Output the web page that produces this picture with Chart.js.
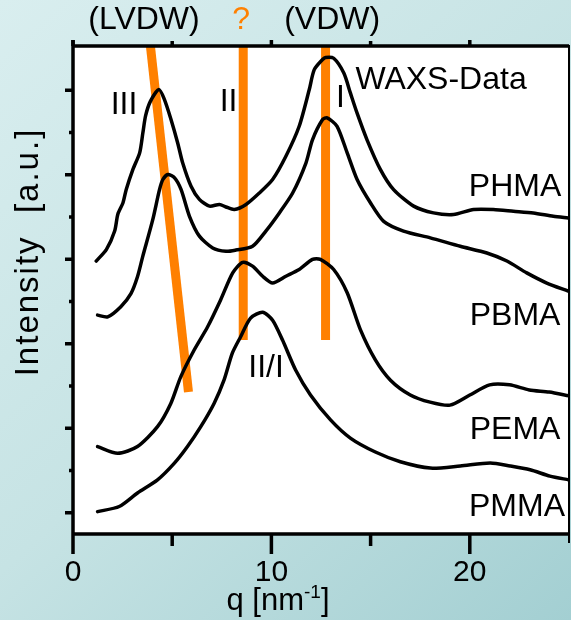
<!DOCTYPE html>
<html>
<head>
<meta charset="utf-8">
<script src="https://cdn.jsdelivr.net/npm/chart.js@4.4.1/dist/chart.umd.min.js"></script>
<style>
  html, body { margin: 0; padding: 0; background: #cfe7e8; }
  #wrap { width: 571px; height: 620px; }
</style>
</head>
<body>
<div id="wrap"><canvas id="c" width="571" height="620"></canvas></div>
<script>
// WAXS curves, q in nm^-1, intensity in arbitrary units (curves offset vertically)
const qPHMA = [1.17, 1.68, 2.10, 2.26, 2.52, 2.68, 3.02, 3.36, 3.52, 3.66, 3.90, 4.33, 4.61, 4.94, 5.28, 5.53, 5.95, 6.37, 6.88, 7.38, 7.71, 8.13, 8.72, 9.39, 10.06, 10.73, 11.40, 11.91, 12.16, 12.58, 12.73, 13.14, 13.65, 13.98, 14.32, 14.82, 15.49, 16.16, 17.17, 18.17, 19.18, 20.19, 21.19, 22.20, 23.20, 24.21, 24.96];
const iPHMA = [5.96, 6.23, 6.67, 7.07, 7.34, 7.65, 8.13, 8.52, 8.99, 9.40, 9.74, 10.02, 9.78, 9.31, 8.75, 8.28, 7.73, 7.42, 7.26, 7.30, 7.24, 7.18, 7.30, 7.57, 7.89, 8.44, 9.15, 10.02, 10.49, 10.73, 10.78, 10.76, 10.41, 9.94, 9.46, 8.83, 8.13, 7.65, 7.26, 7.10, 7.06, 7.18, 7.18, 7.14, 7.10, 7.02, 6.98];

const qPBMA = [1.24, 1.75, 2.41, 2.92, 3.25, 3.51, 4.02, 4.36, 4.53, 4.78, 5.12, 5.45, 5.87, 6.37, 7.04, 7.71, 8.21, 9.05, 9.72, 10.40, 11.07, 11.74, 12.07, 12.58, 12.81, 13.31, 13.82, 14.32, 14.99, 15.66, 16.66, 18.01, 19.52, 20.86, 21.87, 22.87, 23.88, 24.96];
const iPBMA = [4.68, 4.64, 4.88, 5.19, 5.59, 6.06, 6.94, 7.65, 7.89, 8.01, 7.93, 7.65, 7.02, 6.55, 6.27, 6.19, 6.22, 6.31, 6.67, 7.10, 7.57, 8.28, 8.83, 9.31, 9.35, 9.15, 8.52, 7.89, 7.34, 6.90, 6.67, 6.51, 6.31, 6.15, 5.96, 5.68, 5.44, 5.25];

const qPEMA = [1.24, 2.25, 3.25, 4.26, 4.93, 5.43, 6.10, 6.78, 7.44, 8.05, 8.55, 9.05, 9.56, 10.06, 10.73, 11.40, 12.07, 12.47, 13.14, 13.82, 14.49, 15.24, 16.00, 17.00, 18.00, 19.00, 20.00, 21.00, 22.00, 23.00, 24.00, 25.00];
const iPEMA = [1.57, 1.41, 1.57, 2.04, 2.59, 3.22, 3.85, 4.40, 5.04, 5.68, 5.93, 5.84, 5.60, 5.44, 5.60, 5.76, 6.00, 6.00, 5.76, 5.21, 4.33, 3.62, 3.14, 2.79, 2.62, 2.55, 2.79, 3.03, 3.03, 2.91, 2.86, 2.77];

const qPMMA = [1.24, 2.33, 3.25, 4.26, 5.10, 5.77, 6.44, 7.11, 7.61, 8.03, 8.45, 8.95, 9.56, 10.06, 10.56, 11.22, 11.97, 12.98, 13.98, 15.24, 16.50, 18.01, 19.52, 21.03, 22.03, 23.04, 24.04, 25.00];
const iPMMA = [0.03, 0.15, 0.47, 0.78, 1.17, 1.57, 2.04, 2.59, 3.14, 3.78, 4.17, 4.61, 4.75, 4.56, 4.09, 3.38, 2.79, 2.20, 1.77, 1.44, 1.21, 1.06, 1.11, 1.18, 1.11, 1.02, 0.87, 0.78];

// Peak-assignment guide lines
const lvdwQ = [3.82, 5.82];
const lvdwI = [11.40, 2.86];
const peakIIQ = [8.58, 8.58];
const peakIII = [11.40, 4.09];
const peakIQ = [12.73, 12.73];
const peakII = [11.40, 4.09];

// Axis ticks
const xMajorTicks = [0, 10, 20];
const xMinorTicks = [5, 15, 25];
const yTicks = [0, 1, 2, 3, 4, 5, 6, 7, 8, 9, 10];

const FONT = '"Liberation Sans", Arial, Helvetica, sans-serif';
const ORANGE = '#ff8000';

function pts(qs, is) { return qs.map((q, k) => ({ x: q, y: is[k] })); }

function curve(label, qs, is) {
  return {
    label, data: pts(qs, is), borderColor: '#000', borderWidth: 3.5,
    pointRadius: 0, tension: 0.25, fill: false, order: 1,
    borderJoinStyle: 'round', borderCapStyle: 'round'
  };
}
function guide(label, qs, is) {
  return {
    label, data: pts(qs, is), borderColor: ORANGE, borderWidth: 9,
    pointRadius: 0, tension: 0, fill: false, order: 5, clip: 0,
    borderCapStyle: 'butt'
  };
}

// Text placed in data coordinates
const notes = [
  { t: 'III', x: 2.57, y: 9.65 },
  { t: 'II', x: 7.84, y: 9.73 },
  { t: 'I', x: 13.48, y: 9.82 },
  { t: 'WAXS-Data', x: 18.55, y: 10.25 },
  { t: 'PHMA', x: 22.28, y: 7.71 },
  { t: 'PBMA', x: 22.28, y: 4.66 },
  { t: 'PEMA', x: 22.28, y: 1.96 },
  { t: 'PMMA', x: 22.38, y: 0.14 },
  { t: 'II/I', x: 9.73, y: 3.43 }
];
// Labels above the frame, positioned along q
const topNotes = [
  { t: '(LVDW)', x: 3.58, c: '#000' },
  { t: '?', x: 8.47, c: ORANGE },
  { t: '(VDW)', x: 13.06, c: '#000' }
];

const framePlugin = {
  id: 'frame',
  beforeDraw(chart) {
    const { ctx, width, height, chartArea: a } = chart;
    ctx.save();
    const g = ctx.createLinearGradient(0, 0, width, height);
    g.addColorStop(0, '#d9eeef');
    g.addColorStop(0.5, '#c6e3e4');
    g.addColorStop(1, '#a3cfd2');
    ctx.fillStyle = g;
    ctx.fillRect(0, 0, width, height);
    ctx.fillStyle = '#fff';
    ctx.fillRect(a.left, a.top, a.right - a.left, a.bottom - a.top);
    ctx.restore();
  },
  afterDraw(chart) {
    const { ctx, chartArea: a, scales: { x, y } } = chart;
    ctx.save();
    ctx.strokeStyle = '#000';
    ctx.lineCap = 'butt';

    // frame
    ctx.lineWidth = 3.5;
    ctx.beginPath();
    ctx.moveTo(a.left, a.top); ctx.lineTo(a.right, a.top);
    ctx.moveTo(a.left, a.bottom); ctx.lineTo(a.right, a.bottom);
    ctx.moveTo(a.left, a.top - 6); ctx.lineTo(a.left, a.bottom);
    ctx.stroke();
    ctx.lineWidth = 2;
    ctx.beginPath();
    ctx.moveTo(a.right, a.top - 1); ctx.lineTo(a.right, a.bottom + 9);
    ctx.stroke();

    // x ticks (bottom outward, top outward)
    ctx.lineWidth = 3.5;
    ctx.beginPath();
    xMajorTicks.forEach(v => {
      const px = x.getPixelForValue(v);
      ctx.moveTo(px, a.bottom); ctx.lineTo(px, a.bottom + 20);
      ctx.moveTo(px, a.top); ctx.lineTo(px, a.top - 6);
    });
    xMinorTicks.forEach(v => {
      const px = x.getPixelForValue(v);
      if (v < 25) {
        ctx.moveTo(px, a.bottom); ctx.lineTo(px, a.bottom + 12);
        ctx.moveTo(px, a.top); ctx.lineTo(px, a.top - 5);
      }
    });
    // y ticks (left outward)
    yTicks.forEach(v => {
      const py = y.getPixelForValue(v);
      const len = v % 2 === 0 ? 8 : 4;
      ctx.moveTo(a.left, py); ctx.lineTo(a.left - len, py);
    });
    ctx.stroke();

    // x tick labels
    ctx.fillStyle = '#000';
    ctx.font = '30px ' + FONT;
    ctx.textAlign = 'center';
    ctx.textBaseline = 'middle';
    xMajorTicks.forEach(v => ctx.fillText(String(v), x.getPixelForValue(v), a.bottom + 39));

    // x title with superscript
    const big = '31px ' + FONT, small = '19px ' + FONT;
    ctx.textAlign = 'left';
    ctx.textBaseline = 'alphabetic';
    ctx.font = big; const w1 = ctx.measureText('q [nm').width; const w3 = ctx.measureText(']').width;
    ctx.font = small; const w2 = ctx.measureText('-1').width;
    const cx = 278;
    let sx = cx - (w1 + w2 + w3) / 2;
    const base = 610;
    ctx.font = big; ctx.fillText('q [nm', sx, base); sx += w1;
    ctx.font = small; ctx.fillText('-1', sx, base - 12); sx += w2;
    ctx.font = big; ctx.fillText(']', sx, base);

    // y title
    ctx.save();
    ctx.translate(29, 252);
    ctx.rotate(-Math.PI / 2);
    ctx.textAlign = 'center';
    ctx.textBaseline = 'middle';
    ctx.font = '33px ' + FONT;
    if ('letterSpacing' in ctx) ctx.letterSpacing = '2px';
    ctx.fillText('Intensity  [a.u.]', 0, 0);
    if ('letterSpacing' in ctx) ctx.letterSpacing = '0px';
    ctx.restore();

    // annotations inside the frame
    ctx.font = '32px ' + FONT;
    ctx.textAlign = 'center';
    ctx.textBaseline = 'middle';
    notes.forEach(n => ctx.fillText(n.t, x.getPixelForValue(n.x), y.getPixelForValue(n.y)));

    // annotations above the frame
    topNotes.forEach(n => {
      ctx.fillStyle = n.c;
      ctx.fillText(n.t, x.getPixelForValue(n.x), a.top - 26);
    });
    ctx.restore();
  }
};

new Chart(document.getElementById('c'), {
  type: 'line',
  data: {
    datasets: [
      curve('PHMA', qPHMA, iPHMA),
      curve('PBMA', qPBMA, iPBMA),
      curve('PEMA', qPEMA, iPEMA),
      curve('PMMA', qPMMA, iPMMA),
      guide('LVDW', lvdwQ, lvdwI),
      guide('II', peakIIQ, peakIII),
      guide('I', peakIQ, peakII)
    ]
  },
  options: {
    responsive: false,
    animation: false,
    layout: { padding: { left: 73, right: 2, top: 46, bottom: 86 } },
    scales: {
      x: { type: 'linear', min: 0, max: 25, display: false },
      y: { type: 'linear', min: -0.5, max: 11.05, display: false }
    },
    plugins: { legend: { display: false }, tooltip: { enabled: false } }
  },
  plugins: [framePlugin]
});
</script>
</body>
</html>
